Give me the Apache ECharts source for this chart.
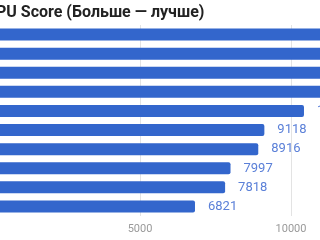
<!DOCTYPE html>
<html>
<head>
<meta charset="utf-8">
<script src="https://cdn.jsdelivr.net/npm/echarts@6/dist/echarts.min.js"></script>
<style>html,body{margin:0;padding:0;background:#fff;}#c{width:320px;height:240px;}</style>
</head>
<body>
<div id="c"></div>
<script>
const titleText = 'CPU Score (Больше — лучше)';
const categories = ['CPU 1','CPU 2','CPU 3','CPU 4','CPU 5','CPU 6','CPU 7','CPU 8','CPU 9','CPU 10'];
const scores = [13800, 12900, 11900, 11400, 10430, 9118, 8916, 7997, 7818, 6821];
const xTicks = [0, 5000, 10000, 15000];

const chart = echarts.init(document.getElementById('c'), null, {renderer: 'canvas'});
chart.setOption({
  animation: false,
  backgroundColor: '#fff',
  title: {
    text: titleText,
    left: -19.5, top: 0,
    textStyle: {fontFamily: 'Roboto', fontSize: 16, fontWeight: 'bold', color: '#222'}
  },
  grid: {left: -11, top: 25, bottom: 24, width: 453, containLabel: false, outerBoundsMode: 'none'},
  xAxis: {
    type: 'value', min: xTicks[0], max: xTicks[xTicks.length - 1], interval: 5000,
    axisLine: {show: false}, axisTick: {show: false},
    splitLine: {lineStyle: {color: '#e3e3e3', width: 1}},
    axisLabel: {fontFamily: 'Roboto', fontSize: 11, color: '#9a9a9a', margin: 8, formatter: v => String(v)}
  },
  yAxis: {
    type: 'category', data: categories, inverse: true,
    axisLine: {show: false}, axisTick: {show: false}, axisLabel: {show: false}
  },
  series: [{
    type: 'bar', data: scores, barWidth: 12,
    itemStyle: {color: '#3366cc', borderRadius: 2},
    label: {show: true, position: 'right', distance: 13, fontFamily: 'Roboto', fontSize: 13, color: '#5b80d8'}
  }]
});
</script>
</body>
</html>
